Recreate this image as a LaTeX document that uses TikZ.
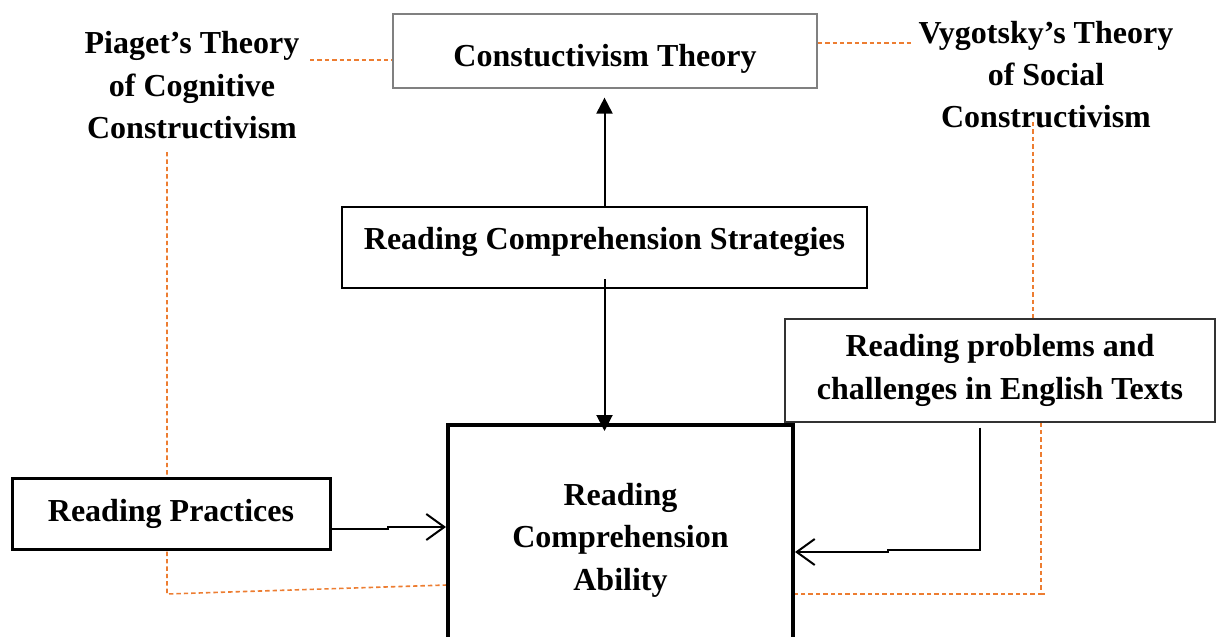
\documentclass[tikz,border=0pt]{standalone}
\usepackage{fontspec}
\setmainfont{Liberation Serif}
\usetikzlibrary{arrows.meta,backgrounds}
\definecolor{dashorange}{HTML}{ED7D31}
\begin{document}
\begin{tikzpicture}[x=0.5pt,y=-0.5pt,
  lbl/.style={font=\fontsize{16}{21.25}\selectfont\bfseries},
  boxbase/.style={lbl, fill=white, inner xsep=0pt, inner ysep=0pt},
  link/.style={line width=1pt, draw=black},
  fillarrow/.style={link, -{Triangle[length=8pt,width=8pt]}},
  openarrow/.style={link, -{Straight Barb[length=9pt,width=13pt,line width=1pt]}},
  tie/.style={draw=dashorange, line width=0.8pt, dash pattern=on 2.2pt off 1.5pt}]
\useasboundingbox (0,0) rectangle (1217,637);
\clip (0,0) rectangle (1217,637);

% boxes
\node[boxbase, draw=black!50, line width=0.8pt, minimum width=212pt,
      text height=26.5pt, text depth=10.5pt, anchor=north] (cons) at (605,13) {Constuctivism Theory};
\node[boxbase, draw, line width=1pt, minimum width=262.5pt,
      text height=21pt, text depth=19.5pt, anchor=north] (strat) at (604.5,206) {Reading Comprehension Strategies};
\node[boxbase, draw, line width=1.5pt, minimum width=159pt,
      text height=21.5pt, text depth=14pt, anchor=north] (pract) at (171,477) {Reading Practices};
\node[boxbase, draw=black!80, line width=0.8pt, minimum width=215pt, minimum height=51.5pt,
      align=flush center, anchor=north] (probs) at (1000,318) {Reading problems and\\challenges in English Texts};
\node[boxbase, draw, line width=2pt, minimum width=172.5pt, minimum height=115pt,
      align=flush center, anchor=north] (abil) at (620.5,423) {Reading\\Comprehension\\Ability};

% free texts
\node[lbl, align=flush center, text width=120pt, anchor=base] (piaget) at (192,54)
  {Piaget’s Theory\\of Cognitive\\Constructivism};
\node[lbl, align=flush center, text width=140pt, anchor=base] (vyg) at (1046,43)
  {Vygotsky’s Theory\\of Social\\Constructivism};

% dashed ties
\coordinate (pEnd) at (310,60);
\coordinate (vEnd) at (912,43);
\coordinate (pTop) at (167,152);
\coordinate (pCorner) at (167,594);
\coordinate (pJoin) at (447,585);
\coordinate (vTop) at (1033,122);
\coordinate (vCorner) at (1041,594);
\begin{pgfonlayer}{background}
\fill[white] (0,0) rectangle (1217,637);
\draw[tie] (pEnd) -- (cons.west |- pEnd);
\draw[tie] (cons.east |- vEnd) -- (vEnd);
\draw[tie] (pTop) -- (pCorner) -- (pJoin);
\draw[tie] (vTop) -- (vTop |- probs.north);
\draw[tie] (probs.south -| vCorner) -- (vCorner) -- (abil.east |- vCorner);
\draw[tie] (vCorner) -- ++(7,0);
\end{pgfonlayer}

% arrows
\draw[fillarrow, shorten >=4.5pt] (strat.north) -- (strat.north |- cons.south);
\draw[fillarrow, shorten <=-5pt, shorten >=-4pt] (strat.south) -- (strat.south |- abil.north);

\coordinate (rpA) at (388,529);
\coordinate (rpB) at (388,527);
\draw[openarrow] (pract.east |- rpA) -- (rpA) -- (rpB) -- (abil.west |- rpB);

\coordinate (qA) at (980,550);
\coordinate (qB) at (888,550);
\coordinate (qC) at (888,552);
\draw[openarrow, shorten <=2.5pt] (probs.south -| qA) -- (qA) -- (qB) -- (qC) -- (abil.east |- qC);
\end{tikzpicture}
\end{document}
